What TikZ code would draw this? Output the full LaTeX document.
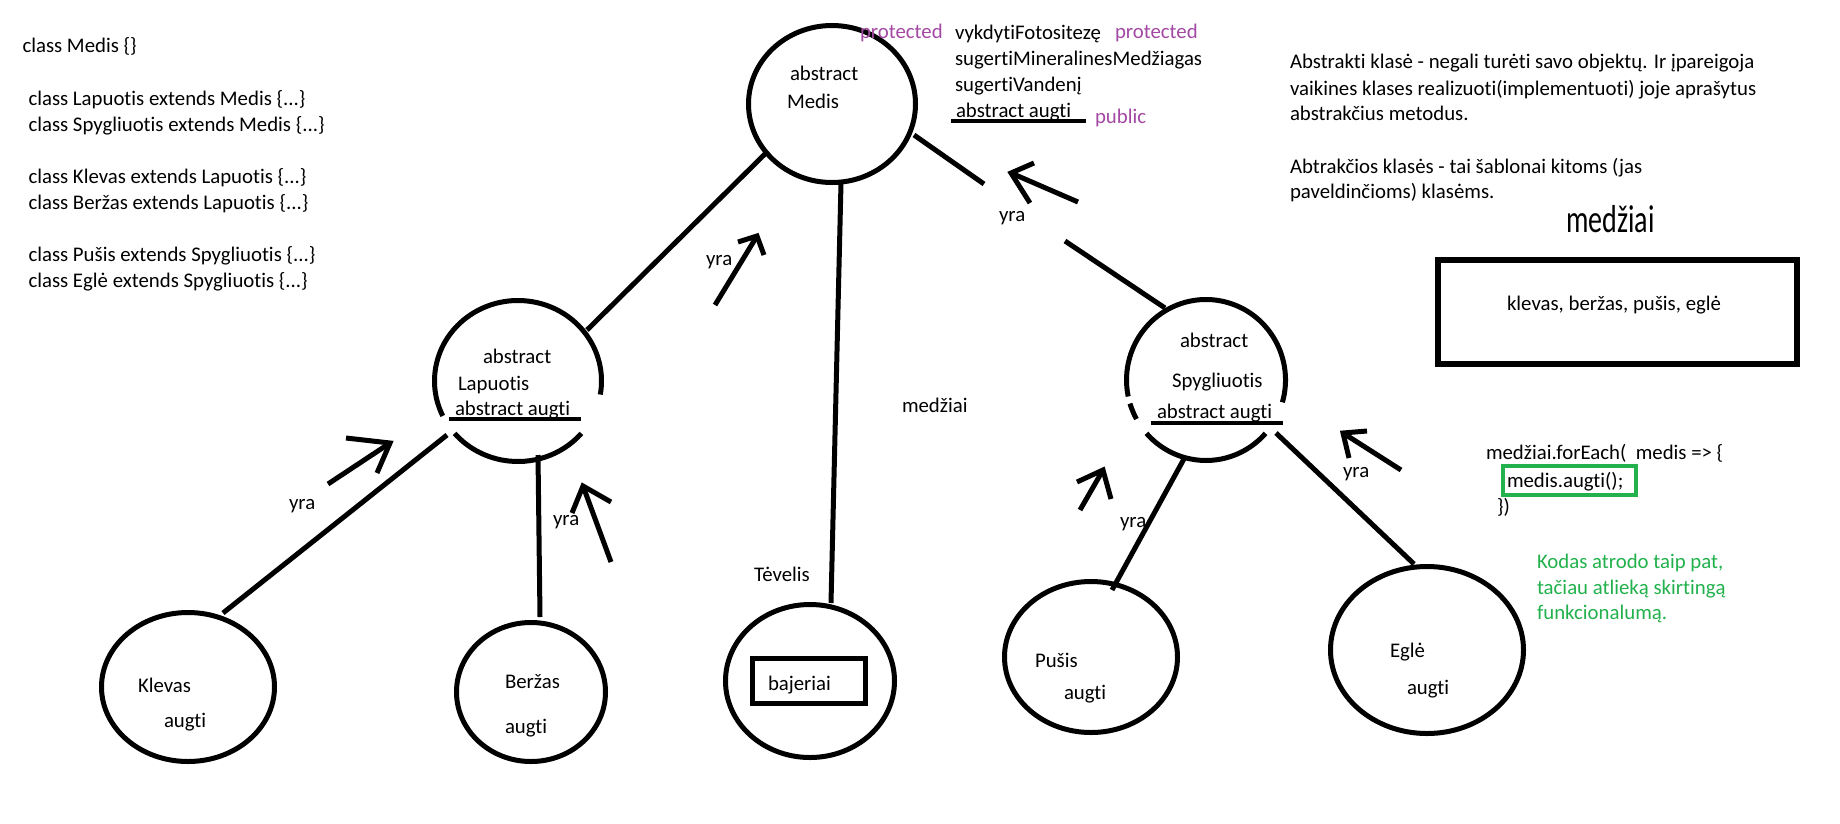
\documentclass[tikz,border=0pt]{standalone}
\usepackage{fontspec}
\setmainfont{Carlito}[Ligatures={NoCommon}]
\usetikzlibrary{shapes.geometric}
\definecolor{ppurple}{HTML}{A349A4}
\definecolor{pgreen}{HTML}{22B14C}
\begin{document}
\begin{tikzpicture}[x=1pt,y=-1pt,
  txt/.style={anchor=base west, inner sep=0pt, outer sep=0pt, font=\fontsize{20.8}{25}\selectfont},
  prot/.style={txt, text=ppurple},
  grn/.style={txt, text=pgreen},
  circ/.style={ellipse, draw, line width=5pt, inner sep=0pt},
  ln/.style={line width=5pt},
  uline/.style={line width=4.5pt},
  arr/.style={line width=5pt}]
\useasboundingbox[fill=white] (0,0) rectangle (1840,823);

% ---------- left column code ----------
\node[txt] (c1) at (22.5,52) {class Medis \{\}};
\node[txt] (c2) at (28.5,105) {class Lapuotis extends Medis \{...\}};
\node[txt] (c3) at (28.5,131) {class Spygliuotis extends Medis \{...\}};
\node[txt] (c4) at (28.5,183) {class Klevas extends Lapuotis \{...\}};
\node[txt] (c5) at (28.5,209) {class Beržas extends Lapuotis \{...\}};
\node[txt] (c6) at (28.5,261) {class Pušis extends Spygliuotis \{...\}};
\node[txt] (c7) at (28.5,287) {class Eglė extends Spygliuotis \{...\}};

% ---------- Medis ----------
\node[circ, minimum width=167pt, minimum height=157pt] (medis) at (832,104) {};
\node[txt] (m1) at (790,80) {abstract};
\node[txt] (m2) at (787,108) {Medis};
\node[prot] (p1) at (860,38) {protected};
\node[txt] (f1) at (955,39) {vykdytiFotositezę};
\node[prot] (p2) at (1115,38) {protected};
\node[txt] (f2) at (955,65) {sugertiMineralinesMedžiagas};
\node[txt] (f3) at (955,91) {sugertiVandenį};
\node[txt] (f4) at (956,117) {abstract augti};
\node[prot] (p3) at (1095,123) {public};
\coordinate (u1a) at (951,121); \coordinate (u1b) at (1086,121);
\draw[uline] (u1a) -- (u1b);

% ---------- Lapuotis (open circle) ----------
\coordinate (lapc) at (518,381);
\draw[ln] (lapc) ++(9.7:83.5 and 80.5) arc[start angle=9.7, end angle=-205.7, x radius=83.5, y radius=80.5];
\draw[ln] (lapc) ++(40.6:83.5 and 80.5) arc[start angle=40.6, end angle=139.4, x radius=83.5, y radius=80.5];
\node[txt] (l1) at (483,363) {abstract};
\node[txt] (l2) at (458,390) {Lapuotis};
\node[txt] (l3) at (455,415) {abstract augti};
\coordinate (u2a) at (449,419); \coordinate (u2b) at (581,419);
\draw[uline] (u2a) -- (u2b);

% ---------- Spygliuotis (open circle) ----------
\coordinate (spc) at (1206,380);
\draw[ln] (spc) ++(16.1:79.5 and 80.5) arc[start angle=16.1, end angle=-191.8, x radius=79.5, y radius=80.5];
\draw[ln] (spc) ++(163:79.5 and 80.5) arc[start angle=163, end angle=151, x radius=79.5, y radius=80.5];
\draw[ln] (spc) ++(41.5:79.5 and 80.5) arc[start angle=41.5, end angle=138.5, x radius=79.5, y radius=80.5];
\node[txt] (s1) at (1180,347) {abstract};
\node[txt] (s2) at (1172,387) {Spygliuotis};
\node[txt] (s3) at (1157,418) {abstract augti};
\coordinate (u3a) at (1151,423); \coordinate (u3b) at (1283,423);
\draw[uline] (u3a) -- (u3b);

% ---------- leaf circles ----------
\node[circ, minimum width=173pt, minimum height=149pt] (klevas) at (188,687) {};
\node[txt] (k1) at (138,692) {Klevas};
\node[txt] (k2) at (164,727) {augti};
\node[circ, minimum width=149pt, minimum height=139pt] (berzas) at (531,692) {};
\node[txt] (b1) at (505,688) {Beržas};
\node[txt] (b2) at (505,733) {augti};
\node[circ, minimum width=169pt, minimum height=153pt] (tevelis) at (810,681) {};
\node[txt] (t1) at (754,581) {Tėvelis};
\draw[line width=5pt] (752.5,658.5) rectangle (865.5,703.5);
\node[txt] (t2) at (768,690) {bajeriai};
\node[circ, minimum width=173pt, minimum height=151pt] (pusis) at (1091,657) {};
\node[txt] (q1) at (1035,667) {Pušis};
\node[txt] (q2) at (1064,699) {augti};
\node[circ, minimum width=193pt, minimum height=167pt] (egle) at (1427,650) {};
\node[txt] (e1) at (1390,657) {Eglė};
\node[txt] (e2) at (1407,694) {augti};
\node[txt] (mid) at (902,412) {medžiai};

% ---------- connectors ----------
\coordinate (a1) at (768,151); \coordinate (a2) at (587,330);
\draw[ln] (a1) -- (a2);
\coordinate (b1s) at (447,435); \coordinate (b1e) at (223,613);
\draw[ln] (b1s) -- (b1e);
\coordinate (b2s) at (538,455); \coordinate (b2e) at (540,617);
\draw[ln] (b2s) -- (b2e);
\coordinate (t1s) at (841,183); \coordinate (t1e) at (831,603);
\draw[ln] (t1s) -- (t1e);
\coordinate (r1s) at (914,135); \coordinate (r1e) at (984,184);
\coordinate (r2s) at (1065,241); \coordinate (r2e) at (1165,308);
\draw[ln] (r1s) -- (r1e);
\draw[ln] (r2s) -- (r2e);
\coordinate (p1s) at (1185,457); \coordinate (p1e) at (1112,590);
\draw[ln] (p1s) -- (p1e);
\coordinate (g1s) at (1276,433); \coordinate (g1e) at (1414,564);
\draw[ln] (g1s) -- (g1e);

% ---------- hand-drawn arrows ----------
\coordinate (A1t) at (328,484); \coordinate (A1h) at (390,443);
\coordinate (A1a) at (346,438); \coordinate (A1b) at (377,473);
\draw[arr] (A1t) -- (A1h); \draw[arr] (A1a) -- (A1h) -- (A1b);
\coordinate (A2t) at (611,562); \coordinate (A2h) at (583,486);
\coordinate (A2a) at (572,513); \coordinate (A2b) at (611,502);
\draw[arr] (A2t) -- (A2h); \draw[arr] (A2a) -- (A2h) -- (A2b);
\coordinate (A3t) at (715,305); \coordinate (A3h) at (757,236);
\coordinate (A3a) at (738,242); \coordinate (A3b) at (764,255);
\draw[arr] (A3t) -- (A3h); \draw[arr] (A3a) -- (A3h) -- (A3b);
\coordinate (A4t) at (1078,202); \coordinate (A4h) at (1011,173);
\coordinate (A4a) at (1034,163); \coordinate (A4b) at (1030,203);
\draw[arr] (A4t) -- (A4h); \draw[arr] (A4a) -- (A4h) -- (A4b);
\coordinate (A5t) at (1080,510); \coordinate (A5h) at (1103,470);
\coordinate (A5a) at (1077,482); \coordinate (A5b) at (1111,499);
\draw[arr] (A5t) -- (A5h); \draw[arr] (A5a) -- (A5h) -- (A5b);
\coordinate (A6t) at (1401,470); \coordinate (A6h) at (1343,433);
\coordinate (A6a) at (1367,431); \coordinate (A6b) at (1349,458);
\draw[arr] (A6t) -- (A6h); \draw[arr] (A6a) -- (A6h) -- (A6b);

\node[txt] (y1) at (289,509) {yra};
\node[txt] (y2) at (553,525) {yra};
\node[txt] (y3) at (706,265) {yra};
\node[txt] (y4) at (999,221) {yra};
\node[txt] (y5) at (1120,527) {yra};
\node[txt] (y6) at (1343,477) {yra};

% ---------- right side notes ----------
\node[txt] (n1) at (1290,68) {Abstrakti klasė - negali turėti savo objektų. Ir įpareigoja};
\node[txt] (n2) at (1290,95) {vaikines klases realizuoti(implementuoti) joje aprašytus};
\node[txt] (n3) at (1290,120) {abstrakčius metodus.};
\node[txt] (n4) at (1290,173) {Abtrakčios klasės - tai šablonai kitoms (jas};
\node[txt] (n5) at (1290,198) {paveldinčioms) klasėms.};
\node[anchor=base west, inner sep=0pt, font=\fontsize{39}{45}\selectfont] (big) at (1566,232) {\scalebox{0.72}[1]{medžiai}};
\draw[line width=6pt] (1438,260) rectangle (1797,364);
\node[txt] (list) at (1507,310) {klevas, beržas, pušis, eglė};

% ---------- code ----------
\node[txt] (k01) at (1486,459) {medžiai.forEach(\ \ medis => \{};
\draw[pgreen, line width=4pt] (1503,466) rectangle (1636,495);
\node[txt] (k02) at (1507,487) {medis.augti();};
\node[txt] (k03) at (1497,513) {\})};
\node[grn] (g1) at (1537,568) {Kodas atrodo taip pat,};
\node[grn] (g2) at (1537,594) {tačiau atlieką skirtingą};
\node[grn] (g3) at (1537,619) {funkcionalumą.};
\end{tikzpicture}
\end{document}
